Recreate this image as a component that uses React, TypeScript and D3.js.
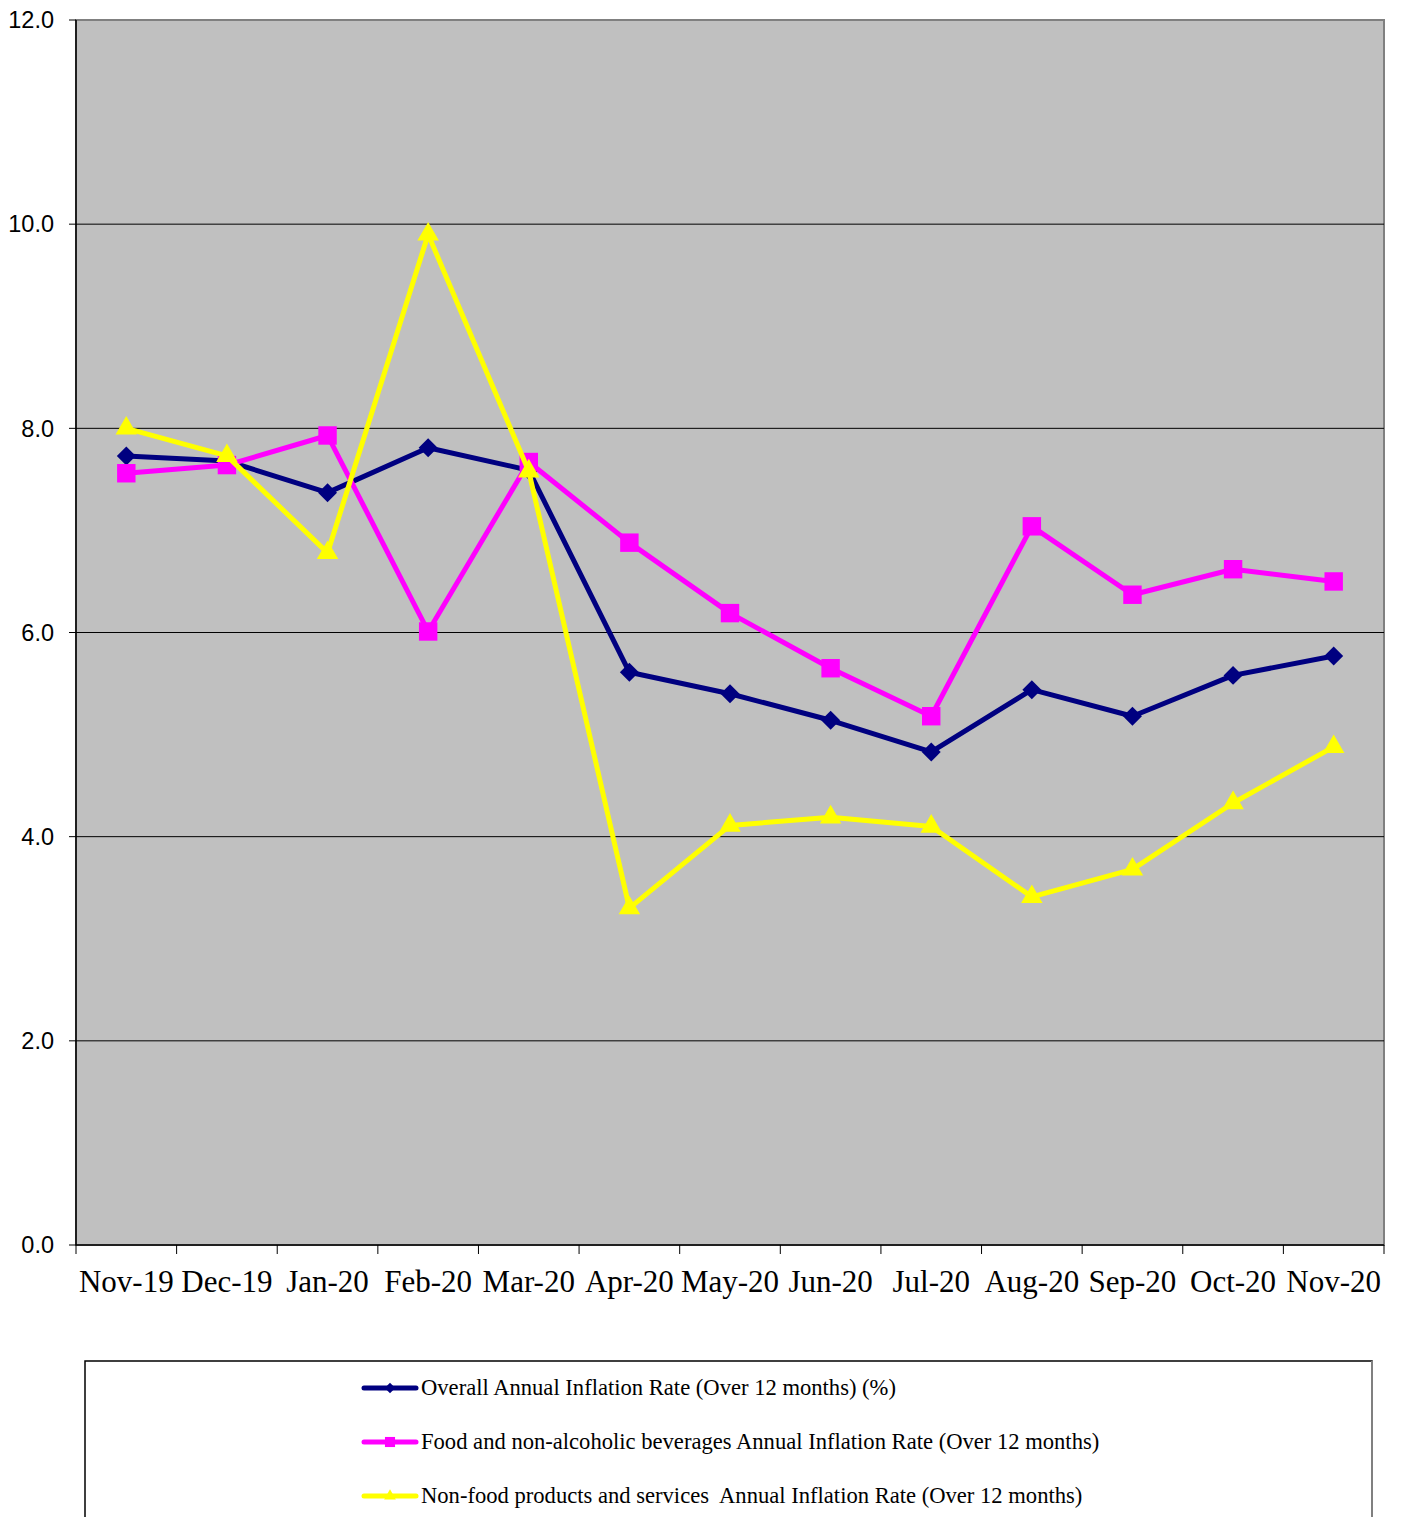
import React from 'react';
import * as d3 from 'd3';

const MONTHS = ['Nov-19', 'Dec-19', 'Jan-20', 'Feb-20', 'Mar-20', 'Apr-20', 'May-20', 'Jun-20', 'Jul-20', 'Aug-20', 'Sep-20', 'Oct-20', 'Nov-20'];
const OVERALL = [7.73, 7.68, 7.37, 7.81, 7.59, 5.61, 5.40, 5.14, 4.83, 5.44, 5.18, 5.58, 5.77];
const FOOD = [7.56, 7.64, 7.93, 6.01, 7.67, 6.88, 6.19, 5.65, 5.18, 7.04, 6.37, 6.62, 6.50];
const NONFOOD = [8.00, 7.73, 6.78, 9.90, 7.58, 3.30, 4.11, 4.19, 4.10, 3.41, 3.68, 4.33, 4.88];
const Y_TICKS = [0, 2, 4, 6, 8, 10, 12];

// wide diamond (square turned 45deg) like the spreadsheet marker
const wideDiamond: d3.SymbolType = {
  draw(ctx, size) {
    const r = Math.sqrt(size / 2);
    ctx.moveTo(0, -r);
    ctx.lineTo(r, 0);
    ctx.lineTo(0, r);
    ctx.lineTo(-r, 0);
    ctx.closePath();
  },
};

const SERIES = [
  { name: 'Overall Annual Inflation Rate (Over 12 months) (%)', values: OVERALL, color: '#000080', symbol: wideDiamond, size: 180 },
  { name: 'Food and non-alcoholic beverages Annual Inflation Rate (Over 12 months)', values: FOOD, color: '#FF00FF', symbol: d3.symbolSquare, size: 340 },
  { name: 'Non-food products and services  Annual Inflation Rate (Over 12 months)', values: NONFOOD, color: '#FFFF00', symbol: d3.symbolTriangle, size: 200 },
];

const W = 1403;
const H = 1517;
const left = 76, right = 1384, top = 20, bottom = 1245;

export default function App() {
  const x = d3.scaleBand<string>().domain(MONTHS).range([left, right]);
  const y = d3.scaleLinear().domain([0, 12]).range([bottom, top]);
  const cx = (m: string) => (x(m) as number) + x.bandwidth() / 2;
  const line = d3.line<number>().x((_, i) => cx(MONTHS[i])).y(v => y(v));
  const tickXs = [...MONTHS.map(m => x(m) as number), right];

  return (
    <svg width={W} height={H} style={{ position: 'absolute', left: 0, top: 0, background: '#fff' }}>
      <rect x={left} y={top} width={right - left} height={bottom - top} fill="#C0C0C0" stroke="#808080" strokeWidth={2} />
      {Y_TICKS.filter(t => t > 0 && t < 12).map(t => (
        <line key={t} x1={left} x2={right} y1={y(t)} y2={y(t)} stroke="#000" strokeWidth={1} />
      ))}
      <line x1={left} x2={left} y1={top} y2={bottom} stroke="#000" strokeWidth={1.5} />
      <line x1={left} x2={right} y1={bottom} y2={bottom} stroke="#000" strokeWidth={1.5} />
      {Y_TICKS.map(t => (
        <g key={t}>
          <line x1={left - 7} x2={left} y1={y(t)} y2={y(t)} stroke="#000" />
          <text x={54} y={y(t)} dy="0.35em" textAnchor="end" fontFamily="Liberation Sans, Arial" fontSize={23.5}>{t.toFixed(1)}</text>
        </g>
      ))}
      {tickXs.map((tx, i) => (
        <line key={i} x1={tx} x2={tx} y1={bottom} y2={bottom + 9} stroke="#000" />
      ))}
      {MONTHS.map(m => (
        <text key={m} x={cx(m)} y={1292} textAnchor="middle" fontFamily="Liberation Serif, Times New Roman" fontSize={31}>{m}</text>
      ))}
      {SERIES.map(s => (
        <g key={s.name}>
          <path d={line(s.values) as string} fill="none" stroke={s.color} strokeWidth={5} strokeLinejoin="round" />
          {s.values.map((v, i) => (
            <path key={i} d={d3.symbol().type(s.symbol).size(s.size)() as string}
              transform={`translate(${cx(MONTHS[i])},${y(v)})`} fill={s.color} />
          ))}
        </g>
      ))}
      <rect x={85} y={1361} width={1287} height={200} fill="#fff" stroke="#000" strokeWidth={1.5} />
      <line x1={1372} x2={1372} y1={1361} y2={H} stroke="#808080" strokeWidth={2} />
      {SERIES.map((s, i) => {
        const ly = 1388 + i * 54;
        return (
          <g key={s.name}>
            <line x1={364} x2={416} y1={ly} y2={ly} stroke={s.color} strokeWidth={5} strokeLinecap="round" />
            <path d={d3.symbol().type(s.symbol).size(s.size * 0.3)() as string} transform={`translate(390,${ly})`} fill={s.color} />
            <text x={421} y={ly} dy="0.33em" fontFamily="Liberation Serif, Times New Roman" fontSize={22.6} style={{ whiteSpace: 'pre' }}>{s.name}</text>
          </g>
        );
      })}
    </svg>
  );
}
